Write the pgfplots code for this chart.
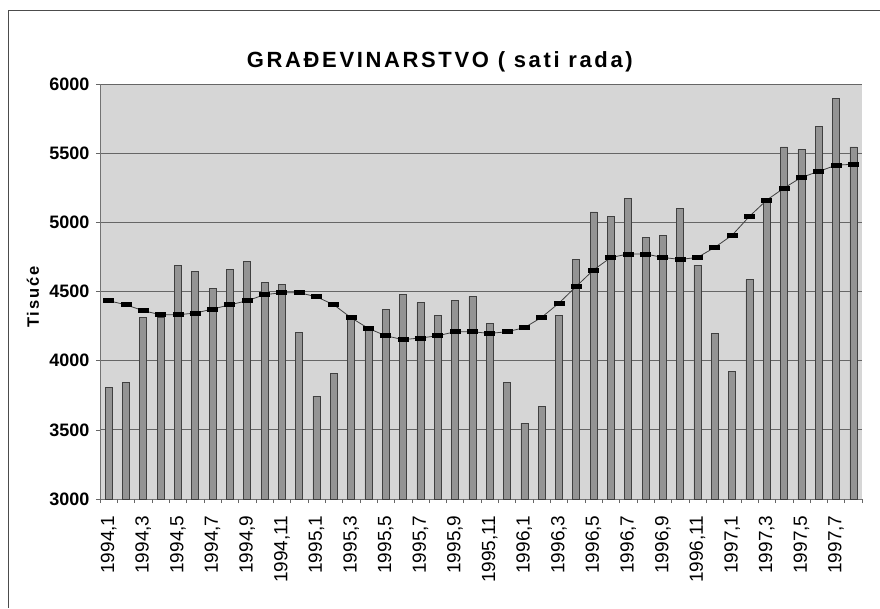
\documentclass[border=0pt]{standalone}
\usepackage{fontspec}
\setmainfont{Liberation Sans}
\usepackage{pgfplots}
\pgfplotsset{compat=1.18}
\begin{document}
\begin{tikzpicture}
\path[use as bounding box] (-100pt,-109pt) rectangle (780pt,499pt);
\draw[black!70, line width=1pt] (-91pt,-109pt) -- (-91pt,488pt) -- (780pt,488pt);
\begin{axis}[
  at={(0pt,0pt)}, anchor=south west,
  scale only axis, width=762pt, height=415pt,
  xmin=-0.5, xmax=43.5, ymin=3000, ymax=6000,
  ytick={3000,3500,...,6000},
  xtick={0,2,...,42},
  xticklabels={{1994,1},{1994,3},{1994,5},{1994,7},{1994,9},{1994,11},
               {1995,1},{1995,3},{1995,5},{1995,7},{1995,9},{1995,11},
               {1996,1},{1996,3},{1996,5},{1996,7},{1996,9},{1996,11},
               {1997,1},{1997,3},{1997,5},{1997,7}},
  xtick style={draw=none},
  extra x ticks={-0.5,0.5,...,43.5},
  extra x tick labels={},
  extra x tick style={xtick style={draw=black!60, thin}},
  ytick style={draw=black!60, thin},
  tick align=outside, major tick length=4pt,
  axis x line*=bottom, axis y line*=left,
  axis line style={black!55, thin, -},
  axis background/.style={fill=black!16},
  ymajorgrids, major grid style={black!60, line width=0.8pt},
  /pgf/number format/assume math mode=true,
  /pgf/number format/1000 sep={},
  yticklabel style={font=\fontsize{18}{20}\selectfont\bfseries, anchor=east, xshift=-3pt},
  xticklabel style={font=\fontsize{19}{21}\selectfont, rotate=90, anchor=east, xshift=-9pt},
  ylabel={Tisuće},
  ylabel style={font=\fontsize{16.5}{18}\selectfont\bfseries\addfontfeature{LetterSpace=12}, at={(axis description cs:-0.0879,0.487)}, anchor=center, rotate=0},
  title={GRAĐEVINARSTVO ( sati rada)},
  title style={font=\fontsize{22}{24}\selectfont\bfseries\addfontfeature{LetterSpace=12}, at={(axis description cs:0.446,1)}, anchor=base, yshift=10pt},
  clip=true,
]
\addplot[ybar, bar width=7pt, fill=black!42, draw=black!75, line width=0.6pt] coordinates {
(0,3805) (1,3845) (2,4315) (3,4310) (4,4690) (5,4643) (6,4520) (7,4657) (8,4715) (9,4566)
(10,4550) (11,4205) (12,3744) (13,3910) (14,4315) (15,4228) (16,4373) (17,4480) (18,4420) (19,4329)
(20,4433) (21,4465) (22,4270) (23,3845) (24,3549) (25,3672) (26,4327) (27,4732) (28,5076) (29,5043)
(30,5175) (31,4890) (32,4907) (33,5103) (34,4690) (35,4197) (36,3922) (37,4585) (38,5143) (39,5546)
(40,5526) (41,5694) (42,5897) (43,5546)
};
\addplot[sharp plot, black!75, line width=0.8pt, mark=square*, mark size=2pt,
  mark options={fill=black, draw=black, xscale=2.5, yscale=1, solid}] coordinates {
(0,4433) (1,4404) (2,4361) (3,4332) (4,4332) (5,4344) (6,4373) (7,4404) (8,4433) (9,4477)
(10,4491) (11,4491) (12,4462) (13,4404) (14,4310) (15,4233) (16,4180) (17,4152) (18,4164) (19,4180)
(20,4209) (21,4209) (22,4197) (23,4209) (24,4238) (25,4313) (26,4416) (27,4537) (28,4656) (29,4746)
(30,4771) (31,4771) (32,4746) (33,4732) (34,4746) (35,4819) (36,4907) (37,5043) (38,5161) (39,5248)
(40,5325) (41,5368) (42,5413) (43,5420)
};
\end{axis}
\end{tikzpicture}
\end{document}
